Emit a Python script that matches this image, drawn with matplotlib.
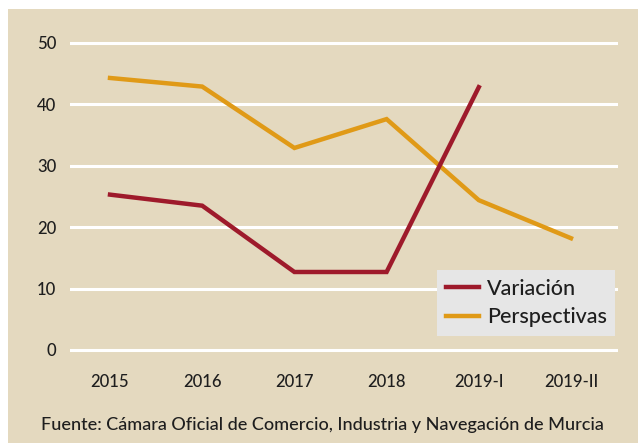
import matplotlib
matplotlib.use("Agg")
import matplotlib.pyplot as plt
from matplotlib.patches import Rectangle

categories = ["2015", "2016", "2017", "2018", "2019-I", "2019-II"]
variacion = [25.3, 23.5, 12.7, 12.7, 42.8]
perspectivas = [44.3, 42.9, 32.9, 37.6, 24.4, 18.2]
yticks = [0, 10, 20, 30, 40, 50]

bg = "#e4d9bf"
red = "#9e1a2b"
orange = "#e09a17"

plt.rcParams["font.family"] = ["Lato", "DejaVu Sans"]
plt.rcParams["font.weight"] = "medium"

fig = plt.figure(figsize=(6.38, 4.43), dpi=100)
fig.patch.set_facecolor("white")
fig.patches.append(Rectangle((8 / 638, 0), 1, 1 - 9 / 443, transform=fig.transFigure,
                             facecolor=bg, edgecolor="none", zorder=-10))

ax = fig.add_axes([70 / 638, 1 - 356.1 / 443, 548 / 638, (356.1 - 30.7) / 443])
ax.set_facecolor("none")
ax.set_xlim(-0.434, 5.51)
ax.set_ylim(-1, 52)

for v in yticks:
    ax.axhline(v, color="white", linewidth=2.2, zorder=1)

x = list(range(len(categories)))
ax.plot(x[:len(variacion)], variacion, color=red, linewidth=3.2, label="Variación",
        zorder=3, solid_joinstyle="miter")
ax.plot(x, perspectivas, color=orange, linewidth=3.2, label="Perspectivas",
        zorder=2, solid_joinstyle="miter")

for s in ax.spines.values():
    s.set_visible(False)
ax.set_yticks(yticks)
ax.set_yticklabels([str(v) for v in yticks], fontsize=12, color="#1e1e1e")
ax.set_xticks(x)
ax.set_xticklabels(categories, fontsize=12, color="#1e1e1e")
ax.tick_params(length=0)
ax.tick_params(axis="y", pad=10)
ax.tick_params(axis="x", pad=13)

leg = ax.legend(loc="lower right", bbox_to_anchor=(0.995, 0.062), fontsize=15.5,
                frameon=True, fancybox=False, handlelength=1.55, handletextpad=0.35,
                borderpad=0.4, labelspacing=0.4, borderaxespad=0)
leg.get_frame().set_facecolor("#e6e6e6")
leg.get_frame().set_edgecolor("none")
leg.get_frame().set_alpha(1)
for t in leg.get_texts():
    t.set_color("#1e1e1e")

fig.text(322 / 638, 1 - 425 / 443, "Fuente: Cámara Oficial de Comercio, Industria y Navegación de Murcia",
         ha="center", va="center", fontsize=13, color="#1e1e1e")

fig.savefig("out.png", dpi=100)
